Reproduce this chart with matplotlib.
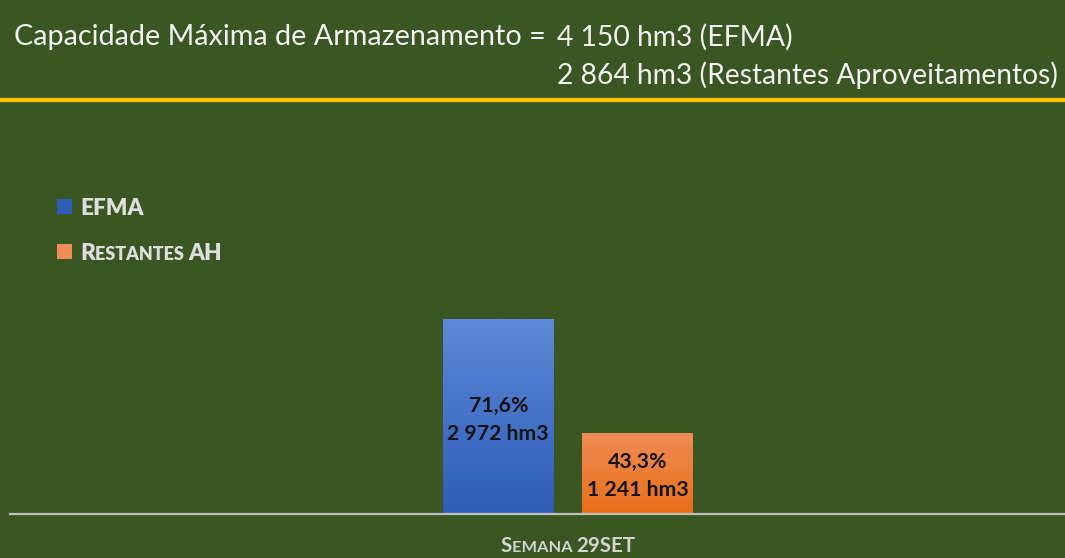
import numpy as np
import matplotlib.pyplot as plt
from matplotlib.colors import to_rgb
from matplotlib.lines import Line2D

# data
series = ["EFMA", "Restantes AH"]
volumes_hm3 = [2972, 1241]
percentages = ["71,6%", "43,3%"]
volume_labels = ["2 972 hm3", "1 241 hm3"]
category = "Semana 29SET"
capacity_label = "Capacidade Máxima de Armazenamento ="
capacity_lines = ["4 150 hm3 (EFMA)", "2 864 hm3 (Restantes Aproveitamentos)"]

BG = "#3A5623"
TXT = "#F2F2F2"
LEG_TXT = "#DEDEDE"
top_cols = ["#5E88D8", "#F08C55"]
bot_cols = ["#2D5DB6", "#E96F18"]

plt.rcParams["font.family"] = ["Lato", "DejaVu Sans"]

fig = plt.figure(figsize=(10.65, 5.58), dpi=100, facecolor=BG)
W, H = 1065, 558
renderer = fig.canvas.get_renderer()


def fx(px):
    return px / W


def fy(py):
    return 1 - py / H


def fit_text(x, y, s, width_px, **kw):
    # draw text at (x, y) px, then scale fontsize so its width matches width_px
    t = fig.text(fx(x), fy(y), s, fontsize=12, **kw)
    w = t.get_window_extent(renderer).width
    t.set_fontsize(12 * width_px / w)
    return t


# header text
fit_text(14, 37, capacity_label, 529, color=TXT, va="center", ha="left")
hdr = fit_text(557, 75, capacity_lines[1], 499, color=TXT, va="center", ha="left")
fig.text(fx(557), fy(37), capacity_lines[0], color=TXT, va="center", ha="left",
         fontsize=hdr.get_fontsize())

# yellow separator
fig.add_artist(Line2D([0, 1], [fy(100), fy(100)], color="#FFC000", lw=3,
                      transform=fig.transFigure))

# plot area
ax_left, ax_right, ax_top, ax_bot = 10, 1065, 110, 514
ax = fig.add_axes([fx(ax_left), fy(ax_bot), fx(ax_right - ax_left),
                   (ax_bot - ax_top) / H])
ax.set_facecolor(BG)

unit = 139.5
xpos = np.array([-0.5, 0.5])
width = 111 / unit

bars = ax.bar(xpos, volumes_hm3, width=width, color=bot_cols, zorder=2)
for b, c0, c1 in zip(bars, top_cols, bot_cols):
    x0 = b.get_x()
    h = b.get_height()
    r0 = np.array(to_rgb(c0))
    r1 = np.array(to_rgb(c1))
    t = np.linspace(0, 1, 100)[:, None]
    grad = (r0 * (1 - t) + r1 * t)[:, None, :]
    im = ax.imshow(grad, extent=(x0, x0 + b.get_width(), 0, h), aspect="auto",
                   origin="upper", zorder=2.5)
    im.set_clip_path(b)
ax.set_xlim((ax_left - 568) / unit, (ax_right - 568) / unit)
ax.set_ylim(0, volumes_hm3[0] * (ax_bot - ax_top) / 195)

# value labels (bold, dark)
lab_size = None
for x, v, p, lab in zip(xpos, volumes_hm3, percentages, volume_labels):
    t1 = ax.annotate(p, (x, v / 2), xytext=(0, 11), textcoords="offset pixels",
                     ha="center", va="center", fontweight="bold",
                     color="#141414", fontsize=14, zorder=4)
    t2 = ax.annotate(lab, (x, v / 2), xytext=(0, -17), textcoords="offset pixels",
                     ha="center", va="center", fontweight="bold",
                     color="#141414", fontsize=14, zorder=4)
    if lab_size is None:
        w = t2.get_window_extent(renderer).width
        lab_size = 14 * 102 / w
    t1.set_fontsize(lab_size)
    t2.set_fontsize(lab_size)

for s in ["top", "right", "left"]:
    ax.spines[s].set_visible(False)
ax.spines["bottom"].set_color("#BFBFBF")
ax.spines["bottom"].set_linewidth(1.6)
ax.set_yticks([])
ax.set_xticks([])


# small-caps text built from pieces
def small_caps(parts, big, small, color, weight="bold"):
    pieces = []
    total = 0
    for txt, is_big in parts:
        t = fig.text(0, 0, txt, fontsize=big if is_big else small,
                     color=color, fontweight=weight, va="baseline")
        w = t.get_window_extent(renderer).width
        pieces.append((t, w))
        total += w
    return pieces, total


def place(pieces, x_left_px, baseline_px):
    cur = x_left_px
    for t, w in pieces:
        t.set_position((fx(cur), fy(baseline_px)))
        cur += w


cat_parts = [("S", True), ("EMANA ", False), ("29SET", True)]
pieces, total = small_caps(cat_parts, 14.8, 11.8, "#D4D4D4")
place(pieces, 568 - total / 2, 552)

# legend
leg_y = [207, 252]
for i, s in enumerate(series):
    fig.patches.append(plt.Rectangle((fx(57), fy(leg_y[i] + 7)), fx(15),
                                     15 / H, transform=fig.transFigure,
                                     facecolor=bot_cols[i] if i == 0 else top_cols[i],
                                     edgecolor="none"))
pieces, _ = small_caps([("EFMA", True)], 16.2, 13, LEG_TXT, "heavy")
place(pieces, 80, 215)
pieces, _ = small_caps([("R", True), ("ESTANTES ", False), ("AH", True)],
                       16.2, 13, LEG_TXT, "heavy")
place(pieces, 80, 260)

fig.savefig("out.png", dpi=100, facecolor=BG)
